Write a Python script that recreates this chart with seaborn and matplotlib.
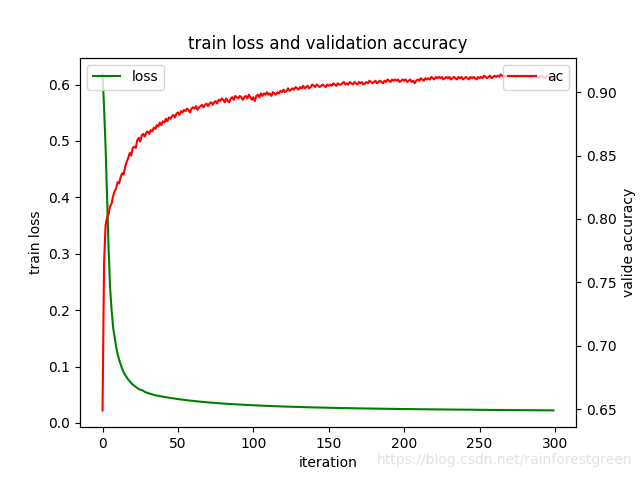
import matplotlib
matplotlib.use("Agg")
import matplotlib.pyplot as plt
import seaborn as sns

# ---- data ----
loss_iter = list(range(0, 31)) + list(range(35, 300, 5)) + [299]
loss_vals = [0.618, 0.560, 0.490, 0.400, 0.310, 0.240, 0.200, 0.170, 0.152, 0.135,
             0.122, 0.112, 0.104, 0.096, 0.090, 0.085, 0.081, 0.077, 0.074, 0.071,
             0.068, 0.066, 0.064, 0.062, 0.060, 0.059, 0.058, 0.057, 0.055, 0.054,
             0.053,
             0.0490, 0.0465, 0.0443, 0.0423, 0.0405, 0.0390, 0.0376, 0.0364, 0.0353, 0.0343,
             0.0335, 0.0327, 0.0320, 0.0313, 0.0307, 0.0301, 0.0296, 0.0291, 0.0287, 0.0283,
             0.0279, 0.0275, 0.0272, 0.0269, 0.0266, 0.0263, 0.0261, 0.0258, 0.0256, 0.0254,
             0.0252, 0.0250, 0.0248, 0.0246, 0.0245, 0.0243, 0.0242, 0.0240, 0.0239, 0.0237,
             0.0236, 0.0235, 0.0234, 0.0232, 0.0231, 0.0230, 0.0229, 0.0228, 0.0227, 0.0226,
             0.0225, 0.0224, 0.0223, 0.0222]

acc_vals = [
    0.649, 0.765, 0.795, 0.801, 0.804, 0.810, 0.812, 0.818, 0.822, 0.824,
    0.829, 0.828, 0.833, 0.836, 0.835, 0.841, 0.845, 0.848, 0.852, 0.850,
    0.856, 0.857, 0.856, 0.862, 0.864, 0.861, 0.866, 0.867, 0.865, 0.868,
    0.869, 0.867, 0.870, 0.869, 0.872, 0.871, 0.874, 0.873, 0.876, 0.874,
    0.877, 0.876, 0.879, 0.877, 0.880, 0.879, 0.881, 0.882, 0.880, 0.883,
    0.884, 0.882, 0.885, 0.884, 0.886, 0.885, 0.887, 0.886, 0.884, 0.887,
    0.888, 0.887, 0.889, 0.886, 0.888, 0.889, 0.890, 0.888, 0.890, 0.891,
    0.889, 0.891, 0.892, 0.890, 0.892, 0.893, 0.891, 0.894, 0.893, 0.895,
    0.894, 0.892, 0.895, 0.893, 0.892, 0.895, 0.896, 0.894, 0.897, 0.896,
    0.895, 0.897, 0.896, 0.894, 0.896, 0.897, 0.895, 0.898, 0.896, 0.894,
    0.896, 0.893, 0.897, 0.898, 0.896, 0.899, 0.897, 0.899, 0.898, 0.900,
    0.898, 0.899, 0.897, 0.900, 0.899, 0.898, 0.900, 0.899, 0.901, 0.900,
    0.902, 0.900, 0.901, 0.903, 0.901, 0.902, 0.903, 0.902, 0.904, 0.903,
    0.902, 0.904, 0.903, 0.905, 0.903, 0.904, 0.905, 0.903, 0.904, 0.906,
    0.905, 0.904, 0.906, 0.905, 0.904, 0.905, 0.906, 0.905, 0.904, 0.906,
    0.905, 0.906, 0.905, 0.907, 0.906, 0.905, 0.907, 0.906, 0.906, 0.907,
    0.908, 0.906, 0.907, 0.906, 0.908, 0.907, 0.906, 0.908, 0.907, 0.906,
    0.908, 0.907, 0.908, 0.906, 0.907, 0.908, 0.907, 0.909, 0.908, 0.907,
    0.908, 0.909, 0.907, 0.908, 0.909, 0.908, 0.907, 0.909, 0.908, 0.910,
    0.909, 0.908, 0.910, 0.909, 0.910, 0.909, 0.910, 0.908, 0.909, 0.910,
    0.909, 0.910, 0.908, 0.909, 0.910, 0.908, 0.909, 0.907, 0.909, 0.910,
    0.909, 0.911, 0.910, 0.909, 0.911, 0.910, 0.911, 0.910, 0.912, 0.911,
    0.910, 0.912, 0.911, 0.912, 0.911, 0.912, 0.910, 0.911, 0.912, 0.911,
    0.912, 0.910, 0.911, 0.912, 0.911, 0.910, 0.912, 0.911, 0.912, 0.910,
    0.911, 0.912, 0.911, 0.910, 0.912, 0.911, 0.912, 0.911, 0.910, 0.912,
    0.911, 0.912, 0.911, 0.913, 0.912, 0.911, 0.912, 0.913, 0.911, 0.912,
    0.913, 0.912, 0.913, 0.912, 0.914, 0.913, 0.912, 0.913, 0.912, 0.913,
    0.912, 0.913, 0.912, 0.913, 0.911, 0.912, 0.913, 0.912, 0.913, 0.912,
    0.913, 0.912, 0.913, 0.912, 0.911, 0.913, 0.912, 0.913, 0.912, 0.911,
    0.912, 0.913, 0.912, 0.911, 0.912, 0.913, 0.912, 0.911, 0.912, 0.910,
]
acc_iter = list(range(len(acc_vals)))

title = "train loss and validation accuracy"
xlabel = "iteration"
ylabel_left = "train loss"
ylabel_right = "valide accuracy"
watermark = "https://blog.csdn.net/rainforestgreen"

# ---- plot ----
fig, ax1 = plt.subplots(figsize=(6.4, 4.8), dpi=100)
sns.lineplot(x=loss_iter, y=loss_vals, ax=ax1, color="green", label="loss")
ax1.set_xlabel(xlabel)
ax1.set_ylabel(ylabel_left)
ax1.legend(loc="upper left")

ax2 = ax1.twinx()
sns.lineplot(x=acc_iter, y=acc_vals, ax=ax2, color="red", label="ac")
ax2.set_ylabel(ylabel_right)
ax2.legend(loc="upper right")

ax1.set_xlim(-14.95, 313.95)
ax1.set_xticks([0, 50, 100, 150, 200, 250, 300])
ax1.set_yticks([0.0, 0.1, 0.2, 0.3, 0.4, 0.5, 0.6])
ax2.set_yticks([0.65, 0.70, 0.75, 0.80, 0.85, 0.90])
plt.title(title)

fig.text(0.988, 0.027, watermark, ha="right", va="bottom",
         fontsize=10, color="#e2e2e2")

fig.savefig("out.png", dpi=100)
